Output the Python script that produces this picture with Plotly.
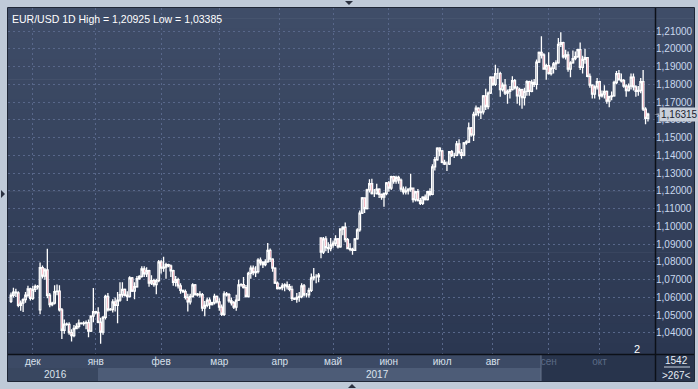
import plotly.graph_objects as go

# ---------------- data ----------------
bar_days = [
    ("2016-11", [18, 21, 22, 23, 24, 25, 28, 29, 30]),
    ("2016-12", [1, 2, 4, 5, 6, 7, 8, 9, 11, 12, 13, 14, 15, 16, 18, 19, 20, 21, 22, 23, 25, 26, 27, 28, 29, 30]),
    ("2017-01", [1, 2, 3, 4, 5, 6, 8, 9, 10, 11, 12, 13, 15, 16, 17, 18, 19, 20, 22, 23, 24, 25, 26, 27, 29, 30, 31]),
    ("2017-02", [1, 2, 3, 5, 6, 7, 8, 9, 10, 12, 13, 14, 15, 16, 17, 19, 20, 21, 22, 23, 24, 26, 27, 28]),
    ("2017-03", [1, 2, 3, 5, 6, 7, 8, 9, 10, 12, 13, 14, 15, 16, 17, 20, 21, 22, 23, 24, 27, 28, 29, 30, 31]),
    ("2017-04", [2, 3, 4, 5, 6, 7, 9, 10, 11, 12, 13, 14, 17, 18, 19, 20, 21, 24, 25, 26, 27, 28]),
    ("2017-05", [1, 2, 3, 4, 5, 8, 9, 10, 11, 12, 15, 16, 17, 18, 19, 22, 23, 24, 25, 26, 29, 30, 31]),
    ("2017-06", [1, 2, 5, 6, 7, 8, 9, 12, 13, 14, 15, 16, 19, 20, 21, 22, 23, 26, 27, 28, 29, 30]),
    ("2017-07", [3, 4, 5, 6, 7, 10, 11, 12, 13, 14, 17, 18, 19, 20, 21, 24, 25, 26, 27, 28, 31]),
    ("2017-08", [1, 2, 3, 4, 7, 8, 9, 10, 11, 14, 15, 16, 17, 18, 21, 22, 23, 24, 25, 28, 29, 30, 31]),
    ("2017-09", [1, 4, 5, 6, 7, 8, 11, 12, 13, 14, 15, 18, 19, 20, 21, 22, 25, 26, 27, 28, 29]),
    ("2017-10", [2, 3, 4, 5, 6, 9, 10, 11, 12, 13, 16, 17, 18, 19, 20, 23, 24, 25, 26, 27, 30]),
]

opens = [
    # Nov
    1.0578, 1.0612, 1.0630, 1.0625, 1.0555, 1.0568, 1.0588, 1.0612, 1.0648,
    # Dec
    1.0595, 1.0645, 1.0662, 1.0530, 1.0768, 1.0720, 1.0755, 1.0612, 1.0560, 1.0568, 1.0632, 1.0635, 1.0530,
    1.0415, 1.0450, 1.0448, 1.0402, 1.0385, 1.0425, 1.0437, 1.0455, 1.0452, 1.0455, 1.0458, 1.0410, 1.0495,
    # Jan
    1.0520, 1.0515, 1.0460, 1.0405, 1.0488, 1.0605, 1.0530, 1.0532, 1.0575, 1.0555, 1.0585, 1.0615, 1.0645,
    1.0612, 1.0605, 1.0710, 1.0635, 1.0660, 1.0705, 1.0718, 1.0760, 1.0733, 1.0750, 1.0680, 1.0695, 1.0672, 1.0695,
    # Feb
    1.0800, 1.0765, 1.0770, 1.0785, 1.0778, 1.0750, 1.0685, 1.0700, 1.0665, 1.0640, 1.0632, 1.0600, 1.0575,
    1.0605, 1.0670, 1.0615, 1.0618, 1.0615, 1.0540, 1.0555, 1.0585, 1.0560, 1.0570, 1.0605,
    # Mar
    1.0575, 1.0545, 1.0505, 1.0620, 1.0615, 1.0580, 1.0570, 1.0545, 1.0585, 1.0670, 1.0672, 1.0655, 1.0605,
    1.0735, 1.0765, 1.0740, 1.0745, 1.0810, 1.0795, 1.0785, 1.0800, 1.0865, 1.0815, 1.0765, 1.0680,
    # Apr
    1.0650, 1.0655, 1.0665, 1.0670, 1.0660, 1.0645, 1.0595, 1.0590, 1.0600, 1.0605, 1.0665, 1.0615, 1.0615,
    1.0640, 1.0710, 1.0715, 1.0715, 1.0935, 1.0855, 1.0930, 1.0880, 1.0875,
    # May
    1.0895, 1.0905, 1.0930, 1.0885, 1.0985, 1.0995, 1.0925, 1.0875, 1.0870, 1.0865, 1.0930, 1.0980, 1.1075,
    1.1160, 1.1100, 1.1205, 1.1240, 1.1185, 1.1185, 1.1210, 1.1180, 1.1165, 1.1185,
    # Jun
    1.1245, 1.1215, 1.1280, 1.1255, 1.1275, 1.1260, 1.1210, 1.1195, 1.1200, 1.1210, 1.1215, 1.1150, 1.1195,
    1.1145, 1.1130, 1.1165, 1.1150, 1.1195, 1.1180, 1.1335, 1.1375, 1.1440,
    # Jul
    1.1425, 1.1360, 1.1350, 1.1350, 1.1420, 1.1400, 1.1400, 1.1465, 1.1415, 1.1400, 1.1470, 1.1475, 1.1555,
    1.1515, 1.1630, 1.1665, 1.1640, 1.1645, 1.1735, 1.1675, 1.1750,
    # Aug
    1.1840, 1.1800, 1.1860, 1.1860, 1.1770, 1.1795, 1.1750, 1.1760, 1.1770, 1.1820, 1.1780, 1.1735, 1.1770,
    1.1725, 1.1760, 1.1815, 1.1760, 1.1810, 1.1800, 1.1925, 1.1980, 1.1965, 1.1885,
    # Sep
    1.1905, 1.1860, 1.1890, 1.1915, 1.1920, 1.2025, 1.2035, 1.1955, 1.1965, 1.1885, 1.1920, 1.1945, 1.1955,
    1.1995, 1.1895, 1.1940, 1.1950, 1.1845, 1.1795, 1.1745, 1.1785,
    # Oct
    1.1815, 1.1735, 1.1745, 1.1760, 1.1705, 1.1730, 1.1735, 1.1810, 1.1860, 1.1825, 1.1820, 1.1790, 1.1765,
    1.1790, 1.1840, 1.1785, 1.1760, 1.1765, 1.1815, 1.1660, 1.1608,
]

highs = [
    1.0628, 1.0655, 1.0648, 1.0635, 1.0583, 1.0595, 1.0630, 1.0665, 1.0655,
    1.0665, 1.0672, 1.0670, 1.0796, 1.0780, 1.0765, 1.0874, 1.0625, 1.0575, 1.0668, 1.0672, 1.0668, 1.0540,
    1.0475, 1.0458, 1.0460, 1.0420, 1.0445, 1.0455, 1.0475, 1.0460, 1.0465, 1.0470, 1.0475, 1.0500, 1.0653,
    1.0525, 1.0545, 1.0485, 1.0495, 1.0615, 1.0625, 1.0540, 1.0590, 1.0600, 1.0630, 1.0685, 1.0685, 1.0650,
    1.0635, 1.0719, 1.0715, 1.0685, 1.0720, 1.0725, 1.0775, 1.0775, 1.0770, 1.0755, 1.0725, 1.0705, 1.0705, 1.0810,
    1.0810, 1.0829, 1.0795, 1.0790, 1.0785, 1.0755, 1.0720, 1.0710, 1.0680, 1.0645, 1.0645, 1.0620, 1.0620,
    1.0680, 1.0675, 1.0625, 1.0635, 1.0625, 1.0580, 1.0600, 1.0600, 1.0575, 1.0620, 1.0610,
    1.0595, 1.0560, 1.0635, 1.0630, 1.0625, 1.0600, 1.0580, 1.0615, 1.0700, 1.0680, 1.0715, 1.0670, 1.0745,
    1.0780, 1.0780, 1.0775, 1.0820, 1.0825, 1.0805, 1.0815, 1.0906, 1.0875, 1.0820, 1.0770, 1.0690,
    1.0660, 1.0680, 1.0680, 1.0690, 1.0675, 1.0665, 1.0600, 1.0625, 1.0630, 1.0680, 1.0675, 1.0625, 1.0655,
    1.0735, 1.0765, 1.0730, 1.0738, 1.0937, 1.0940, 1.0945, 1.0910, 1.0935,
    1.0920, 1.0950, 1.0935, 1.0990, 1.1000, 1.1022, 1.0935, 1.0905, 1.0880, 1.0935, 1.0990, 1.1090, 1.1165,
    1.1160, 1.1212, 1.1265, 1.1268, 1.1210, 1.1240, 1.1215, 1.1185, 1.1190, 1.1250,
    1.1255, 1.1285, 1.1285, 1.1285, 1.1285, 1.1270, 1.1225, 1.1225, 1.1215, 1.1296, 1.1215, 1.1200, 1.1210,
    1.1160, 1.1170, 1.1180, 1.1200, 1.1215, 1.1350, 1.1390, 1.1445, 1.1445,
    1.1430, 1.1375, 1.1365, 1.1425, 1.1430, 1.1415, 1.1480, 1.1490, 1.1435, 1.1475, 1.1485, 1.1585, 1.1560,
    1.1645, 1.1680, 1.1670, 1.1680, 1.1740, 1.1775, 1.1760, 1.1845,
    1.1845, 1.1910, 1.1890, 1.1870, 1.1810, 1.1830, 1.1770, 1.1790, 1.1845, 1.1830, 1.1790, 1.1780, 1.1775,
    1.1780, 1.1822, 1.1820, 1.1825, 1.1830, 1.1940, 1.1985, 1.2070, 1.1975, 1.1915,
    1.1980, 1.1900, 1.1925, 1.1935, 1.2060, 1.20925, 1.2040, 1.1995, 1.1985, 1.1930, 1.1990, 1.1985, 1.2000,
    1.2035, 1.1960, 1.2000, 1.1950, 1.1860, 1.1800, 1.1795, 1.1835,
    1.1820, 1.1765, 1.1795, 1.1765, 1.1735, 1.1760, 1.1820, 1.1875, 1.1880, 1.1860, 1.1830, 1.1800, 1.1805,
    1.1860, 1.1860, 1.1795, 1.1790, 1.1835, 1.1880, 1.1670, 1.1640,
]

lows = [
    1.0569, 1.0600, 1.0602, 1.0545, 1.0525, 1.0518, 1.0570, 1.0600, 1.0582,
    1.0585, 1.0630, 1.0645, 1.0505, 1.0707, 1.0700, 1.0595, 1.0545, 1.0550, 1.0560, 1.0612, 1.0520, 1.0366,
    1.0395, 1.0440, 1.0390, 1.0352, 1.0375, 1.0420, 1.0425, 1.0448, 1.0440, 1.0420, 1.0375, 1.0405, 1.0460,
    1.0505, 1.0455, 1.03385, 1.0390, 1.0475, 1.0520, 1.0525, 1.0515, 1.0520, 1.0454, 1.0575, 1.0600, 1.0605,
    1.0580, 1.0600, 1.0630, 1.0590, 1.0655, 1.0700, 1.0710, 1.0715, 1.0715, 1.0660, 1.0670, 1.0660, 1.0618, 1.0685,
    1.0735, 1.0745, 1.0705, 1.0770, 1.0715, 1.0665, 1.0662, 1.0650, 1.0620, 1.0625, 1.0588, 1.0520, 1.0560,
    1.0600, 1.0610, 1.0605, 1.0600, 1.0522, 1.0494, 1.0545, 1.0535, 1.0555, 1.0560, 1.0565,
    1.0525, 1.0495, 1.0495, 1.0605, 1.0570, 1.0555, 1.0535, 1.0525, 1.0580, 1.0660, 1.0650, 1.0600, 1.0600,
    1.0705, 1.0725, 1.0715, 1.0735, 1.0780, 1.0765, 1.0775, 1.0795, 1.0800, 1.0745, 1.0675, 1.0645,
    1.0645, 1.0640, 1.0635, 1.0645, 1.0635, 1.0580, 1.0585, 1.0570, 1.0575, 1.0595, 1.0605, 1.0600, 1.0600,
    1.0630, 1.0695, 1.0680, 1.0685, 1.0820, 1.0845, 1.0860, 1.0850, 1.0860,
    1.0880, 1.0890, 1.0875, 1.0880, 1.0950, 1.0910, 1.0875, 1.0860, 1.0840, 1.0865, 1.0925, 1.0970, 1.1070,
    1.1075, 1.1095, 1.1190, 1.1180, 1.1165, 1.1180, 1.1160, 1.1150, 1.1110, 1.1175,
    1.1195, 1.1205, 1.1240, 1.1240, 1.1240, 1.1195, 1.1180, 1.1180, 1.1180, 1.1195, 1.1135, 1.1140, 1.1140,
    1.1120, 1.1120, 1.1145, 1.1145, 1.1170, 1.1175, 1.1315, 1.1370, 1.1395,
    1.1355, 1.1345, 1.1312, 1.1345, 1.1390, 1.1385, 1.1395, 1.1405, 1.1380, 1.1395, 1.1460, 1.1470, 1.1505,
    1.1480, 1.1620, 1.1620, 1.1605, 1.1630, 1.1655, 1.1660, 1.1745,
    1.1790, 1.1790, 1.1830, 1.1730, 1.1760, 1.1740, 1.1690, 1.1720, 1.1765, 1.1770, 1.1690, 1.1680, 1.1662,
    1.1680, 1.1735, 1.1735, 1.1755, 1.1785, 1.1770, 1.1920, 1.1945, 1.1885, 1.1825,
    1.1855, 1.1850, 1.1860, 1.1880, 1.1915, 1.2010, 1.1945, 1.1940, 1.1870, 1.1840, 1.1915, 1.1935, 1.1950,
    1.1880, 1.1860, 1.1915, 1.1840, 1.1780, 1.1720, 1.1720, 1.1770,
    1.1715, 1.1725, 1.1720, 1.1690, 1.1670, 1.1710, 1.1730, 1.1800, 1.1825, 1.1810, 1.1780, 1.1730, 1.1760,
    1.1770, 1.1765, 1.1730, 1.1735, 1.1750, 1.1650, 1.1575, 1.1590,
]

closes = [
    1.0612, 1.0630, 1.0625, 1.0555, 1.0568, 1.0588, 1.0612, 1.0648, 1.0595,
    1.0645, 1.0662, 1.0660, 1.0768, 1.0720, 1.0755, 1.0612, 1.0560, 1.0568, 1.0632, 1.0635, 1.0530, 1.0415,
    1.0450, 1.0448, 1.0402, 1.0385, 1.0425, 1.0437, 1.0455, 1.0452, 1.0455, 1.0458, 1.0410, 1.0495, 1.0520,
    1.0515, 1.0460, 1.0405, 1.0488, 1.0605, 1.0530, 1.0532, 1.0575, 1.0555, 1.0585, 1.0615, 1.0645, 1.0612,
    1.0605, 1.0710, 1.0635, 1.0660, 1.0705, 1.0718, 1.0760, 1.0733, 1.0750, 1.0680, 1.0695, 1.0672, 1.0695, 1.0800,
    1.0765, 1.0770, 1.0785, 1.0778, 1.0750, 1.0685, 1.0700, 1.0665, 1.0640, 1.0632, 1.0600, 1.0575, 1.0605,
    1.0670, 1.0615, 1.0618, 1.0615, 1.0540, 1.0555, 1.0585, 1.0560, 1.0570, 1.0605, 1.0575,
    1.0545, 1.0505, 1.0620, 1.0615, 1.0580, 1.0570, 1.0545, 1.0585, 1.0670, 1.0672, 1.0655, 1.0605, 1.0735,
    1.0765, 1.0740, 1.0745, 1.0810, 1.0795, 1.0785, 1.0800, 1.0865, 1.0815, 1.0765, 1.0680, 1.0650,
    1.0655, 1.0665, 1.0670, 1.0660, 1.0645, 1.0595, 1.0590, 1.0600, 1.0605, 1.0665, 1.0615, 1.0615, 1.0640,
    1.0710, 1.0715, 1.0715, 1.0725, 1.0855, 1.0930, 1.0880, 1.0875, 1.0895,
    1.0905, 1.0930, 1.0885, 1.0985, 1.0995, 1.0925, 1.0875, 1.0870, 1.0865, 1.0930, 1.0980, 1.1075, 1.1160,
    1.1100, 1.1205, 1.1240, 1.1185, 1.1185, 1.1210, 1.1180, 1.1165, 1.1185, 1.1245,
    1.1215, 1.1280, 1.1255, 1.1275, 1.1260, 1.1210, 1.1195, 1.1200, 1.1210, 1.1215, 1.1150, 1.1195, 1.1145,
    1.1130, 1.1165, 1.1150, 1.1195, 1.1180, 1.1335, 1.1375, 1.1440, 1.1425,
    1.1360, 1.1350, 1.1350, 1.1420, 1.1400, 1.1400, 1.1465, 1.1415, 1.1400, 1.1470, 1.1475, 1.1555, 1.1515,
    1.1630, 1.1665, 1.1640, 1.1645, 1.1735, 1.1675, 1.1750, 1.1840,
    1.1800, 1.1860, 1.1860, 1.1770, 1.1795, 1.1750, 1.1760, 1.1770, 1.1820, 1.1780, 1.1735, 1.1770, 1.1725,
    1.1760, 1.1815, 1.1760, 1.1810, 1.1800, 1.1925, 1.1980, 1.1965, 1.1885, 1.1905,
    1.1860, 1.1890, 1.1915, 1.1920, 1.2025, 1.2035, 1.1955, 1.1965, 1.1885, 1.1920, 1.1945, 1.1955, 1.1995,
    1.1895, 1.1940, 1.1950, 1.1845, 1.1795, 1.1745, 1.1785, 1.1815,
    1.1735, 1.1745, 1.1760, 1.1705, 1.1730, 1.1735, 1.1810, 1.1860, 1.1825, 1.1820, 1.1790, 1.1765, 1.1790,
    1.1840, 1.1785, 1.1760, 1.1765, 1.1815, 1.1660, 1.1608, 1.16315,
]

month_abbr = {"01": "янв", "02": "фев", "03": "мар", "04": "апр", "05": "май", "06": "июн",
              "07": "июл", "08": "авг", "09": "сен", "10": "окт", "11": "ноя", "12": "дек"}
dim_months = ["09", "10"]
y_ticks = [1.04, 1.05, 1.06, 1.07, 1.08, 1.09, 1.10, 1.11, 1.12, 1.13, 1.14, 1.15,
           1.16, 1.17, 1.18, 1.19, 1.20, 1.21]
title_text = "EUR/USD 1D High = 1,20925 Low = 1,03385"
last_price_text = "1,16315"
years = ["2016", "2017"]

dates = [f"{m}-{d:02d}" for m, days in bar_days for d in days]
n = len(dates)
assert len(opens) == n and len(highs) == n and len(lows) == n and len(closes) == n, (n, len(opens), len(highs), len(lows), len(closes))
xs = list(range(n))

tickvals, ticktext = [], []
for i, d in enumerate(dates):
    if i > 0 and d[:7] != dates[i - 1][:7]:
        mm = d[5:7]
        tickvals.append(i)
        if mm in dim_months:
            ticktext.append(f'<span style="color:#5b6a85">{month_abbr[mm]}</span>')
        else:
            ticktext.append(month_abbr[mm])

# ---------------- layout geometry (pixels) ----------------
W, H = 698, 389
ML, MR, MT, MB = 8, 43, 8, 35
PW, PH = W - ML - MR, H - MT - MB


def px(xp):
    return (xp - ML) / PW


def py(yp):
    return (H - MB - yp) / PH


shapes = []
# gradient background (plot + right axis panel)
top_c = (63, 77, 104)
bot_c = (43, 55, 81)
nb = 34
for k in range(nb):
    t = (k + 0.5) / nb
    c = tuple(round(top_c[j] + (bot_c[j] - top_c[j]) * t) for j in range(3))
    y0p = MT + k * PH / nb
    y1p = MT + (k + 1) * PH / nb + 0.6
    shapes.append(dict(type="rect", xref="paper", yref="paper", x0=px(8), x1=px(694),
                       y0=py(y1p), y1=py(y0p), fillcolor=f"rgb{c}", line=dict(width=0), layer="below"))

# bottom axis rows
shapes.append(dict(type="rect", xref="paper", yref="paper", x0=px(8), x1=px(655), y0=py(368), y1=py(354),
                   fillcolor="#3c4a65", line=dict(width=0), layer="below"))
shapes.append(dict(type="rect", xref="paper", yref="paper", x0=px(8), x1=px(98), y0=py(381), y1=py(368),
                   fillcolor="#394760", line=dict(width=0), layer="below"))
shapes.append(dict(type="rect", xref="paper", yref="paper", x0=px(98), x1=px(541), y0=py(381), y1=py(368),
                   fillcolor="#4d5c77", line=dict(width=0), layer="below"))
shapes.append(dict(type="rect", xref="paper", yref="paper", x0=px(541), x1=px(655), y0=py(381), y1=py(354),
                   fillcolor="#28344c", line=dict(width=0), layer="below"))
shapes.append(dict(type="line", xref="paper", yref="paper", x0=px(541), x1=px(541), y0=py(381), y1=py(355),
                   line=dict(color="#66728a", width=1), layer="below"))
shapes.append(dict(type="rect", xref="paper", yref="paper", x0=px(656), x1=px(694), y0=py(381), y1=py(354),
                   fillcolor="#28344c", line=dict(width=0), layer="below"))
# separator lines
shapes.append(dict(type="line", xref="paper", yref="paper", x0=px(8), x1=px(694), y0=py(354.5), y1=py(354.5),
                   line=dict(color="#0c1018", width=1.5)))
shapes.append(dict(type="line", xref="paper", yref="paper", x0=px(655.5), x1=px(655.5), y0=py(381), y1=py(8),
                   line=dict(color="#0c1018", width=1.5)))
shapes.append(dict(type="line", xref="paper", yref="paper", x0=px(664), x1=px(690), y0=py(367), y1=py(367),
                   line=dict(color="#c7d1df", width=1)))
# outer border
shapes.append(dict(type="rect", xref="paper", yref="paper", x0=px(7.5), x1=px(694.5), y0=py(381.5), y1=py(7.5),
                   line=dict(color="#1e2636", width=1), fillcolor="rgba(0,0,0,0)"))
# small frame triangles
shapes.append(dict(type="path", xref="paper", yref="paper",
                   path=f"M {px(345)} {py(1)} L {px(353)} {py(1)} L {px(349)} {py(5)} Z",
                   fillcolor="#2b3140", line=dict(width=0)))
shapes.append(dict(type="path", xref="paper", yref="paper",
                   path=f"M {px(1)} {py(190)} L {px(1)} {py(198)} L {px(5)} {py(194)} Z",
                   fillcolor="#2b3140", line=dict(width=0)))
shapes.append(dict(type="path", xref="paper", yref="paper",
                   path=f"M {px(348)} {py(388)} L {px(356)} {py(388)} L {px(352)} {py(384)} Z",
                   fillcolor="#2b3140", line=dict(width=0)))
# last price pointer
last_close = closes[-1]
shapes.append(dict(type="path", xref="paper", yref="y",
                   path=f"M {px(654)} {last_close} L {px(659)} {last_close + 0.00034} L {px(659)} {last_close - 0.00034} Z",
                   fillcolor="#c9d0da", line=dict(width=0)))

FONT = "Liberation Sans, Arial, sans-serif"
annotations = [
    dict(xref="paper", yref="paper", x=px(10), y=py(19), xanchor="left", yanchor="middle",
         text=title_text, showarrow=False, font=dict(color="#ffffff", size=10.5, family=FONT)),
    dict(xref="paper", yref="paper", x=px(637), y=py(349), xanchor="center", yanchor="middle",
         text="2", showarrow=False, font=dict(color="#ffffff", size=11, family=FONT)),
    dict(xref="paper", yref="paper", x=px(55), y=py(374.5), xanchor="center", yanchor="middle",
         text=years[0], showarrow=False, font=dict(color="#dbe3ee", size=10, family=FONT)),
    dict(xref="paper", yref="paper", x=px(377), y=py(374.5), xanchor="center", yanchor="middle",
         text=years[1], showarrow=False, font=dict(color="#dbe3ee", size=10, family=FONT)),
    dict(xref="paper", yref="paper", x=px(676), y=py(360.5), xanchor="center", yanchor="middle",
         text="1542", showarrow=False, font=dict(color="#e6ecf4", size=10, family=FONT)),
    dict(xref="paper", yref="paper", x=px(676), y=py(375), xanchor="center", yanchor="middle",
         text="&gt;267&lt;", showarrow=False, font=dict(color="#e6ecf4", size=10, family=FONT)),
    dict(xref="paper", yref="y", x=px(658.5), y=last_close, xanchor="left", yanchor="middle",
         text=last_price_text, showarrow=False, bgcolor="#c9d0da", borderpad=1,
         font=dict(color="#1b2230", size=10, family=FONT)),
]

fig = go.Figure()
fig.add_trace(go.Candlestick(
    x=xs, open=opens, high=highs, low=lows, close=closes,
    increasing=dict(line=dict(color="#ffffff", width=1.3), fillcolor="#34425d"),
    decreasing=dict(line=dict(color="#ffffff", width=1.3), fillcolor="#e0002c"),
    whiskerwidth=0, hoverinfo="skip", showlegend=False,
))

grid_style = dict(showgrid=True, gridcolor="#58678a", griddash="2px,3px", gridwidth=1,
                  zeroline=False, showline=False, ticks="", automargin=False)

fig.update_layout(
    width=W, height=H,
    margin=dict(l=ML, r=MR, t=MT, b=MB, pad=0),
    paper_bgcolor="#bfcad8",
    plot_bgcolor="rgba(0,0,0,0)",
    separators=", ",
    font=dict(family=FONT, size=10, color="#ffffff"),
    showlegend=False,
    boxgap=0.08,
    shapes=shapes,
    annotations=annotations,
    xaxis=dict(range=[-1.24, 265.9], tickmode="array", tickvals=tickvals, ticktext=ticktext,
               tickfont=dict(size=10, color="#d8e0ec", family=FONT),
               rangeslider=dict(visible=False), fixedrange=True, **grid_style),
    yaxis=dict(side="right", range=[1.02813, 1.22295], tickmode="array", tickvals=y_ticks,
               tickformat=".5f", tickfont=dict(size=10, color="#c9d8ee", family=FONT),
               fixedrange=True, **grid_style),
)

fig.write_html(
    "out.html",
    config={"displayModeBar": False},
    post_script="document.body.style.margin='0';document.body.style.background='#bfcad8';",
)
